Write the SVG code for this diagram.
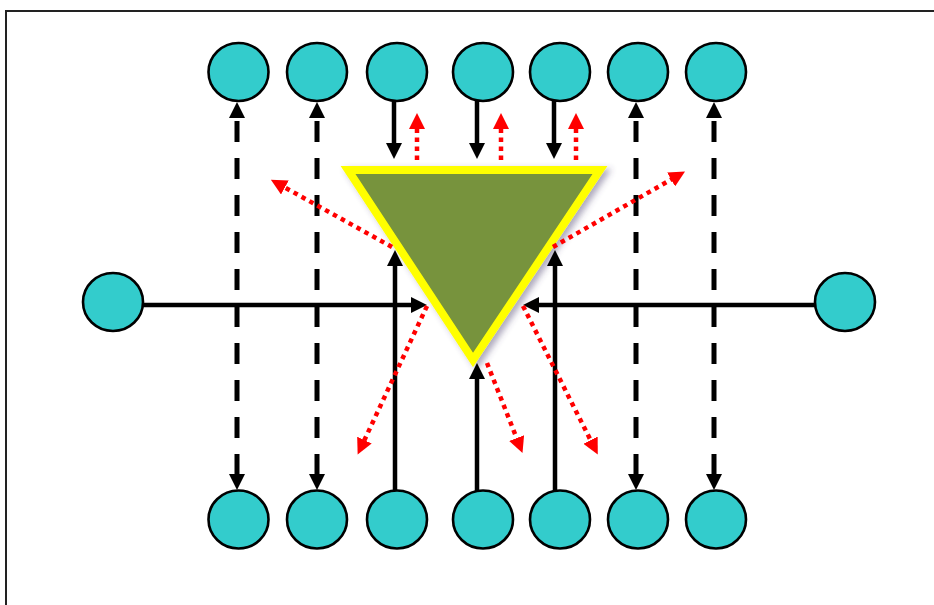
<svg xmlns="http://www.w3.org/2000/svg" width="934" height="605" viewBox="0 0 934 605">
<style>
.node{fill:#33CCCC;stroke:#000;stroke-width:2.6}
.solid{stroke:#000;stroke-width:4.5;fill:none;marker-end:url(#ab)}
.dash{stroke:#000;stroke-width:5;fill:none;stroke-dasharray:21 16;stroke-dashoffset:33;marker-start:url(#ab);marker-end:url(#ab)}
.dot{stroke:#FF0000;stroke-width:4.5;fill:none;stroke-dasharray:4.5 4.5;marker-end:url(#ar)}
</style>
<defs>
<marker id="ab" viewBox="0 0 16 16" refX="1" refY="8" markerWidth="16" markerHeight="16" markerUnits="userSpaceOnUse" orient="auto-start-reverse">
<path d="M0,0 L16,8 L0,16 Z" fill="#000"/>
</marker>
<marker id="ar" viewBox="0 0 16 16" refX="1" refY="8" markerWidth="16" markerHeight="16" markerUnits="userSpaceOnUse" orient="auto">
<path d="M0,0 L16,8 L0,16 Z" fill="#FF0000"/>
</marker>
<filter id="sh" x="-20%" y="-20%" width="140%" height="140%">
<feDropShadow dx="4" dy="3" stdDeviation="3" flood-color="#4a4070" flood-opacity="0.45"/>
</filter>
</defs>
<rect x="6" y="11" width="940" height="610" fill="#fff" stroke="#222" stroke-width="2"/>

<g id="triangle">
<path d="M348,170 L600,170 L473,360 Z" fill="#77933C" stroke="#FFFF00" stroke-width="8" stroke-linejoin="miter" filter="url(#sh)"/>
</g>

<g id="connectors">
<line class="dash" x1="237" y1="117" x2="237" y2="475"/>
<line class="dash" x1="317" y1="117" x2="317" y2="475"/>
<line class="dash" x1="636" y1="117" x2="636" y2="475"/>
<line class="dash" x1="714" y1="117" x2="714" y2="475"/>

<line class="solid" x1="394" y1="101" x2="394" y2="144"/>
<line class="solid" x1="477" y1="101" x2="477" y2="144"/>
<line class="solid" x1="554" y1="101" x2="554" y2="144"/>

<line class="solid" x1="143" y1="305" x2="412" y2="305"/>
<line class="solid" x1="815" y1="305" x2="538" y2="305"/>

<line class="solid" x1="395" y1="491" x2="395" y2="265"/>
<line class="solid" x1="477" y1="491" x2="477" y2="378"/>
<line class="solid" x1="555" y1="491" x2="555" y2="265"/>

<line class="dot" x1="417" y1="160" x2="417" y2="128"/>
<line class="dot" x1="501" y1="160" x2="501" y2="128"/>
<line class="dot" x1="576" y1="160" x2="576" y2="128"/>

<line class="dot" x1="392" y1="247" x2="284" y2="187"/>
<line class="dot" x1="553" y1="247" x2="672" y2="179"/>
<line class="dot" x1="427" y1="306" x2="364" y2="441"/>
<line class="dot" x1="487" y1="363" x2="517" y2="439"/>
<line class="dot" x1="523" y1="306" x2="591" y2="441"/>
</g>

<g id="top1"><ellipse class="node" cx="238.5" cy="72" rx="30" ry="29"/></g>
<g id="top2"><ellipse class="node" cx="317" cy="72" rx="30" ry="29"/></g>
<g id="top3"><ellipse class="node" cx="397" cy="72" rx="30" ry="29"/></g>
<g id="top4"><ellipse class="node" cx="483" cy="72" rx="30" ry="29"/></g>
<g id="top5"><ellipse class="node" cx="560" cy="72" rx="30" ry="29"/></g>
<g id="top6"><ellipse class="node" cx="638" cy="72" rx="30" ry="29"/></g>
<g id="top7"><ellipse class="node" cx="716" cy="72" rx="30" ry="29"/></g>

<g id="left"><ellipse class="node" cx="113" cy="302" rx="30" ry="29"/></g>
<g id="right"><ellipse class="node" cx="845" cy="302" rx="30" ry="29"/></g>

<g id="bot1"><ellipse class="node" cx="238.5" cy="519.5" rx="30" ry="29"/></g>
<g id="bot2"><ellipse class="node" cx="317" cy="519.5" rx="30" ry="29"/></g>
<g id="bot3"><ellipse class="node" cx="397" cy="519.5" rx="30" ry="29"/></g>
<g id="bot4"><ellipse class="node" cx="483" cy="519.5" rx="30" ry="29"/></g>
<g id="bot5"><ellipse class="node" cx="560" cy="519.5" rx="30" ry="29"/></g>
<g id="bot6"><ellipse class="node" cx="638" cy="519.5" rx="30" ry="29"/></g>
<g id="bot7"><ellipse class="node" cx="716" cy="519.5" rx="30" ry="29"/></g>
</svg>
